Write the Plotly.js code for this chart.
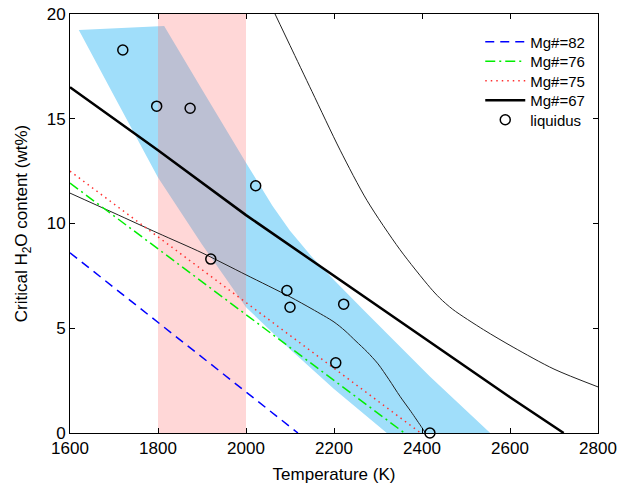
<!DOCTYPE html>
<html>
<head>
<meta charset="utf-8">
<script src="https://cdn.plot.ly/plotly-3.0.1.min.js"></script>
<style>html,body{margin:0;padding:0;background:#fff;}#chart{width:622px;height:494px;}</style>
</head>
<body>
<div id="chart"></div>
<script>
// Mg#=82 (blue dashed)
const mg82T = [1600, 2118];
const mg82W = [8.6, 0];
// Mg#=76 (green dash-dot)
const mg76T = [1600, 2360];
const mg76W = [11.93, 0];
// Mg#=75 (red dotted)
const mg75T = [1600, 2397];
const mg75W = [12.5, 0];
// Mg#=67 (thick black)
const mg67T = [1600, 1800, 2000, 2200, 2400, 2600, 2722];
const mg67W = [16.5, 13.5, 10.4, 7.5, 4.62, 1.71, 0];
// thin curve through liquidus points
const lowT = [1600, 1700, 1800, 1900, 2000, 2100, 2150, 2200, 2225, 2250, 2275, 2300, 2325, 2350, 2375, 2400, 2408];
const lowW = [11.45, 10.5, 9.54, 8.6, 7.55, 6.5, 5.92, 5.3, 4.88, 4.38, 3.88, 3.3, 2.55, 1.75, 1.02, 0.25, 0];
// thin upper curve
const upT = [2066, 2100, 2150, 2214, 2275, 2350, 2418, 2440, 2470, 2540, 2607, 2700, 2800];
const upW = [20, 18.5, 16.3, 13.5, 11.1, 8.75, 6.95, 6.45, 5.9, 4.93, 4.1, 3.05, 2.2];
// liquidus points
const liqT = [1720, 1797, 1873, 2022, 1920, 2093, 2100, 2222, 2204, 2418];
const liqW = [18.28, 15.6, 15.5, 11.8, 8.3, 6.8, 6.0, 6.15, 3.35, 0];
// blue band: left edge (top to bottom) and right edge (top to bottom)
const bandLeftT = [1620, 1700, 1800, 1900, 2000, 2100, 2200, 2320];
const bandLeftW = [19.24, 16.1, 12.2, 9.0, 6.0, 4.0, 2.1, 0];
const bandRightT = [1814, 1900, 2000, 2060, 2100, 2150, 2200, 2266, 2418, 2555];
const bandRightW = [19.43, 16.4, 12.9, 10.85, 9.65, 8.4, 7.3, 5.9, 2.7, 0];
// pink temperature range
const pinkT = [1800, 2000];
const yRange = [0, 20];
const xRange = [1600, 2800];
// legend names
const legendNames = ['Mg#=82', 'Mg#=76', 'Mg#=75', 'Mg#=67', 'liquidus'];

const bandX = bandLeftT.concat(bandRightT.slice().reverse());
const bandY = bandLeftW.concat(bandRightW.slice().reverse());

const traces = [
  {x: bandX, y: bandY, type: 'scatter', mode: 'none', fill: 'toself',
   fillcolor: 'rgb(160,222,250)', showlegend: false, hoverinfo: 'skip'},
  {x: [pinkT[0], pinkT[1], pinkT[1], pinkT[0]], y: [yRange[0], yRange[0], yRange[1], yRange[1]],
   type: 'scatter', mode: 'none', fill: 'toself', fillcolor: 'rgba(255,122,122,0.3)',
   showlegend: false, hoverinfo: 'skip'},
  {x: lowT, y: lowW, type: 'scatter', mode: 'lines', showlegend: false,
   line: {color: '#222222', width: 1, shape: 'spline', smoothing: 0.8}},
  {x: upT, y: upW, type: 'scatter', mode: 'lines', showlegend: false,
   line: {color: '#222222', width: 1, shape: 'spline', smoothing: 0.8}},
  {x: mg82T, y: mg82W, type: 'scatter', mode: 'lines', name: legendNames[0], legend: 'legend',
   line: {color: '#0000ff', width: 1.5, dash: '9px,6px'}},
  {x: mg76T, y: mg76W, type: 'scatter', mode: 'lines', name: legendNames[1], legend: 'legend2',
   line: {color: '#00ee00', width: 1.5, dash: '10px,4px,2px,4px'}},
  {x: mg75T, y: mg75W, type: 'scatter', mode: 'lines', name: legendNames[2], legend: 'legend3',
   line: {color: '#ff3030', width: 1.5, dash: '1.5px,4px'}},
  {x: mg67T, y: mg67W, type: 'scatter', mode: 'lines', name: legendNames[3], legend: 'legend4',
   line: {color: '#000000', width: 2.5}},
  {x: liqT, y: liqW, type: 'scatter', mode: 'markers', name: legendNames[4], legend: 'legend5', cliponaxis: false,
   marker: {symbol: 'circle-open', size: 10, color: '#000000', line: {width: 1.5, color: '#000000'}}}
];

function leg(yc) {
  return {x: 0.777, xanchor: 'left', y: yc, yanchor: 'middle', bgcolor: 'rgba(0,0,0,0)',
          font: {size: 15}, itemwidth: 40};
}

const layout = {
  width: 622, height: 494,
  margin: {l: 70, r: 24, t: 14, b: 61},
  paper_bgcolor: '#ffffff', plot_bgcolor: '#ffffff',
  font: {family: 'Liberation Sans, Arial, sans-serif', size: 17, color: '#000'},
  showlegend: true,
  legend: leg(0.9332),
  legend2: leg(0.8866),
  legend3: leg(0.8401),
  legend4: leg(0.7936),
  legend5: leg(0.747),
  xaxis: {range: xRange, dtick: 200, tick0: 1600, ticks: 'inside', ticklen: 5, tickcolor: '#000',
          showline: true, linecolor: '#000', linewidth: 1, mirror: 'ticks', showgrid: false, zeroline: false,
          tickfont: {size: 17},
          title: {text: 'Temperature (K)', font: {size: 17}, standoff: 10}},
  yaxis: {range: yRange, dtick: 5, ticks: 'inside', ticklen: 5, tickcolor: '#000',
          showline: true, linecolor: '#000', linewidth: 1, mirror: 'ticks', showgrid: false, zeroline: false,
          tickfont: {size: 17},
          title: {text: 'Critical H<sub>2</sub>O content (wt%)', font: {size: 17}, standoff: 14}}
};

Plotly.newPlot('chart', traces, layout, {displayModeBar: false, staticPlot: true});
</script>
</body>
</html>
